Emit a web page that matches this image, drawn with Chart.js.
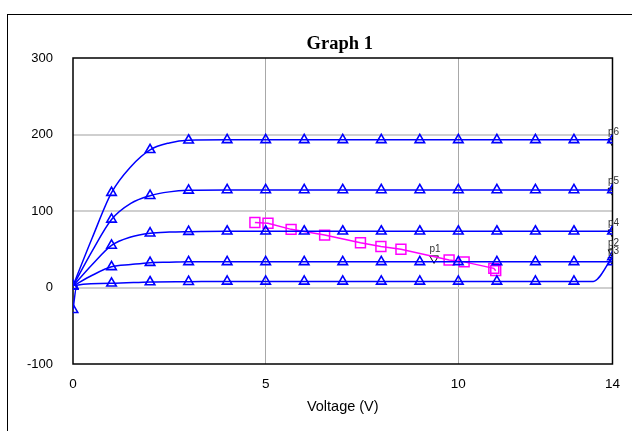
<!DOCTYPE html>
<html><head><meta charset="utf-8">
<script src="https://cdn.jsdelivr.net/npm/chart.js@4"></script>
<style>
html,body{margin:0;padding:0;background:#fff;}
#wrap{position:relative;width:632px;height:431px;overflow:hidden;background:#fff;}
#frame{position:absolute;left:7px;top:14px;width:700px;height:500px;border-left:1px solid #000;border-top:1px solid #000;}
canvas{position:absolute;left:0;top:0;}
</style></head><body>
<div id="wrap"><div id="frame"></div><canvas id="c" width="632" height="431"></canvas></div>
<script>
// Voltage steps of the swept curves
const voltSteps = [0, 0.5, 1, 1.5, 2, 2.5, 3, 4, 5, 6, 7, 8, 9, 10, 11, 12, 13, 14];
const curveP6 = [2, 65, 124, 158, 180, 189, 192.5, 193, 193, 193, 193, 193, 193, 193, 193, 193, 193, 193];
const curveP5 = [2, 48, 89, 110, 120, 125, 127, 127.5, 127.5, 127.5, 127.5, 127.5, 127.5, 127.5, 127.5, 127.5, 127.5, 127.5];
const curveP4 = [2, 30, 55, 66, 71, 72.5, 73, 73.5, 73.5, 73.5, 73.5, 73.5, 73.5, 73.5, 73.5, 73.5, 73.5, 73.5];
const curveP2 = [2, 16, 27, 30, 32.5, 33, 33.5, 33.5, 33.5, 33.5, 33.5, 33.5, 33.5, 33.5, 33.5, 33.5, 33.5, 33.5];
// lowest curve has its own voltages
const lowVolts = [0, 0.1, 1, 2, 3, 4, 5, 6, 7, 8, 9, 10, 11, 12, 13, 13.5, 14];
const lowCurve = [-29, 3, 5.5, 7.2, 7.6, 8, 8, 8, 8, 8, 8, 8, 8, 8, 8, 8, 40];
// magenta load line
const loadVolts = [4.72, 5.06, 5.66, 6.53, 7.46, 7.99, 8.51, 9.76, 10.15, 10.92, 10.97];
const loadCurr = [85, 84, 76, 68.5, 58.5, 53.5, 50, 36, 33.5, 25, 22];
// probes
const probeNames = ['p1', 'p6', 'p5', 'p4', 'p2', 'p3'];
const probeVolts = [9.37, 14, 14, 14, 14, 14];
const probeCurr = [38, 191, 126.5, 72, 46, 36];
// ticks and texts
const xTicks = [0, 5, 10, 14];
const yTicks = [-100, 0, 100, 200, 300];
const chartTitle = 'Graph 1';
const xTitle = 'Voltage (V)';

const BLUE = '#0000ff';
function pts(xs, ys) { return xs.map((x, i) => ({x: x, y: ys[i]})); }
function markerRadii(xs) { return xs.map(x => Number.isInteger(x) ? 5.5 : 0); }
function blueSet(xs, ys) {
  return {
    data: pts(xs, ys), showLine: true, borderColor: BLUE, borderWidth: 1.5,
    pointStyle: 'triangle', pointRadius: markerRadii(xs), pointHoverRadius: markerRadii(xs),
    pointBorderColor: BLUE, pointBackgroundColor: 'rgba(0,0,0,0)', pointBorderWidth: 1.6,
    cubicInterpolationMode: 'monotone'
  };
}

const framePlugin = {
  id: 'frame',
  beforeDatasetsDraw(chart) {
    const a = chart.chartArea, ctx = chart.ctx;
    ctx.save(); ctx.strokeStyle = '#000'; ctx.lineWidth = 1.5;
    ctx.strokeRect(a.left, a.top, a.right - a.left, a.bottom - a.top);
    ctx.restore();
  },
  afterDraw(chart) {
    const a = chart.chartArea, ctx = chart.ctx;
    ctx.save(); ctx.fillStyle = '#000';
    ctx.font = 'bold 18.5px "Liberation Serif", "Times New Roman", serif';
    ctx.textAlign = 'center'; ctx.textBaseline = 'middle';
    ctx.fillText(chartTitle, (a.left + a.right) / 2 - 3, 44);
    ctx.restore();
  }
};
const probeLabels = {
  id: 'probeLabels',
  afterDatasetsDraw(chart) {
    const ctx = chart.ctx, xs = chart.scales.x, ys = chart.scales.y;
    ctx.save(); ctx.fillStyle = '#333'; ctx.font = '10px "Liberation Sans", Arial, sans-serif';
    ctx.textAlign = 'center'; ctx.textBaseline = 'middle';
    probeNames.forEach((n, i) => {
      ctx.fillText(n, xs.getPixelForValue(probeVolts[i]) + 1, ys.getPixelForValue(probeCurr[i]) - 9);
    });
    ctx.restore();
  }
};

new Chart(document.getElementById('c'), {
  type: 'scatter',
  data: {
    datasets: [
      blueSet(voltSteps, curveP6),
      blueSet(voltSteps, curveP5),
      blueSet(voltSteps, curveP4),
      blueSet(voltSteps, curveP2),
      blueSet(lowVolts, lowCurve),
      {
        data: pts(loadVolts, loadCurr), showLine: true, borderColor: '#ff00ff', borderWidth: 1.5,
        pointStyle: 'rect', pointRadius: 7, pointBorderColor: '#ff00ff',
        pointBackgroundColor: 'rgba(0,0,0,0)', pointBorderWidth: 1.5, tension: 0
      },
      {
        data: pts(probeVolts, probeCurr), showLine: false,
        pointStyle: 'triangle', rotation: 180, pointRadius: 5, pointBorderColor: '#000',
        pointBackgroundColor: 'rgba(0,0,0,0)', pointBorderWidth: 1
      }
    ]
  },
  options: {
    responsive: false, animation: false,
    layout: {padding: {left: 0, right: 18, top: 58, bottom: 11}},
    plugins: {
      legend: {display: false}, tooltip: {enabled: false}, title: {display: false}
    },
    scales: {
      x: {
        type: 'linear', min: 0, max: 14,
        afterBuildTicks: s => { s.ticks = xTicks.map(v => ({value: v})); },
        afterFit: s => { s.height = 56; },
        ticks: {color: '#000', padding: 12, maxRotation: 0, font: {family: '"Liberation Sans", Arial, sans-serif', size: 13.5}},
        grid: {drawTicks: false, lineWidth: 1, color: c => (c.tick && (c.tick.value === 5 || c.tick.value === 10)) ? '#a8a8a8' : 'rgba(0,0,0,0)'},
        border: {display: false},
        title: {display: true, text: xTitle, color: '#000', padding: {top: 0, bottom: 4},
          font: {family: '"Liberation Sans", Arial, sans-serif', size: 14.5}}
      },
      y: {
        type: 'linear', min: -100, max: 300,
        afterBuildTicks: s => { s.ticks = yTicks.map(v => ({value: v})); },
        afterFit: s => { s.width = 73; },
        ticks: {color: '#000', padding: 20, font: {family: '"Liberation Sans", Arial, sans-serif', size: 13}},
        grid: {drawTicks: false, lineWidth: 2, color: c => (c.tick && [0, 100, 200].includes(c.tick.value)) ? '#cfcfcf' : 'rgba(0,0,0,0)'},
        border: {display: false}
      }
    }
  },
  plugins: [framePlugin, probeLabels]
});
</script>
</body></html>
